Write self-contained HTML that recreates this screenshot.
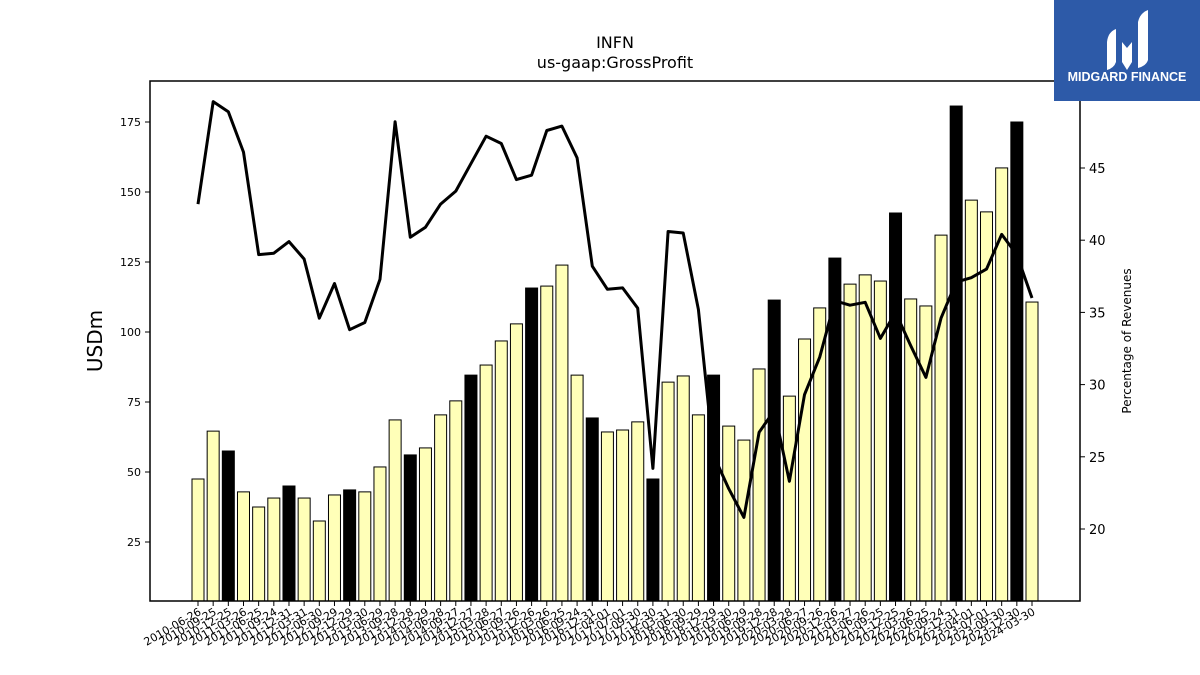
<!DOCTYPE html>
<html><head><meta charset="utf-8"><style>
body{margin:0;background:#fff;}
svg{display:block;font-family:"DejaVu Sans","Liberation Sans",sans-serif;}
</style></head><body>
<svg id="chart" width="1200" height="675" viewBox="0 0 1200 675">
<rect width="1200" height="675" fill="#fff"/>
<text x="615" y="48" font-size="16" text-anchor="middle">INFN</text>
<text x="615" y="68" font-size="16" text-anchor="middle">us-gaap:GrossProfit</text>
<text transform="translate(102,341) rotate(-90)" font-size="20" text-anchor="middle">USDm</text>
<text transform="translate(1131,341) rotate(-90)" font-size="12" text-anchor="middle">Percentage of Revenues</text>
<g id="bars"></g>
<g id="ticks"></g>
<path id="line" fill="none" stroke="#000" stroke-width="3" stroke-linejoin="round"/>
<rect x="150" y="81" width="930" height="520" fill="none" stroke="#000" stroke-width="1.5"/>
<g>
<rect x="1054" y="0" width="146" height="101" fill="#2d5aa8"/>
<path d="M1107 70 L1107 42 Q1108 32 1116 29 L1116 62 Q1114 68 1107 70Z" fill="#fff"/>
<path d="M1122 62 L1122 42 L1127 48 L1132 42 L1132 62 L1127 70Z" fill="#fff"/>
<path d="M1138 68 L1138 22 Q1140 13 1148 10 L1148 60 Q1146 66 1138 68Z" fill="#fff"/>
<text x="1127" y="81" font-size="12.5" font-weight="bold" fill="#fff" text-anchor="middle" font-family="Liberation Sans, sans-serif">MIDGARD FINANCE</text>
</g>
</svg>
<script>
const dates=["2010-06-26","2010-09-25","2010-12-25","2011-03-26","2011-06-25","2011-09-24","2011-12-31","2012-03-31","2012-06-30","2012-09-29","2012-12-29","2013-03-30","2013-06-29","2013-09-28","2013-12-28","2014-03-29","2014-06-28","2014-09-27","2014-12-27","2015-03-28","2015-06-27","2015-09-26","2015-12-26","2016-03-26","2016-06-25","2016-09-24","2016-12-31","2017-04-01","2017-07-01","2017-09-30","2017-12-30","2018-03-31","2018-06-30","2018-09-29","2018-12-29","2019-03-30","2019-06-29","2019-09-28","2019-12-28","2020-03-28","2020-06-27","2020-09-26","2020-12-26","2021-03-27","2021-06-26","2021-09-25","2021-12-25","2022-03-26","2022-06-25","2022-09-24","2022-12-31","2023-04-01","2023-07-01","2023-09-30","2023-12-30","2024-03-30"];
const grossProfit=[47.5,64.6,57.5,42.9,37.5,40.7,45,40.7,32.5,41.8,43.6,42.9,51.8,68.6,56.1,58.6,70.4,75.4,84.6,88.2,96.8,102.9,115.7,116.4,123.9,84.6,69.3,64.3,65,67.9,47.5,82.1,84.3,70.4,84.6,66.4,61.4,86.8,111.4,77.1,97.5,108.6,126.4,117.1,120.4,118.2,142.5,111.8,109.3,134.6,180.7,147.1,142.9,158.6,175,110.7];
const pctRevenue=[42.5,49.6,48.9,46.1,39.0,39.1,39.9,38.7,34.6,37.0,33.8,34.3,37.3,48.2,40.2,40.9,42.5,43.4,45.3,47.2,46.7,44.2,44.5,47.6,47.9,45.7,38.2,36.6,36.7,35.3,24.2,40.6,40.5,35.2,25.1,22.8,20.8,26.7,28.2,23.3,29.3,31.9,35.8,35.5,35.7,33.2,35.0,32.7,30.5,34.6,37.1,37.4,38.0,40.4,39.0,36.0];
const leftTicks=[25,50,75,100,125,150,175];
const rightTicks=[20,25,30,35,40,45];
const NS="http://www.w3.org/2000/svg";
const x=i=>198+i*(1032-198)/(dates.length-1);
const yL=v=>122+(175-v)*2.8;
const yR=v=>168+(45-v)*14.44;
const bw=12;
const bars=document.getElementById('bars'),ticks=document.getElementById('ticks');
function mk(tag,attrs,parent){const e=document.createElementNS(NS,tag);for(const k in attrs)e.setAttribute(k,attrs[k]);parent.appendChild(e);return e;}
dates.forEach((d,i)=>{
  const top=yL(grossProfit[i]);
  const r=mk('rect',{x:x(i)-bw/2,y:top,width:bw,height:601-top,fill:(i%4===2)?'#000':'#ffffb8',stroke:'#000','stroke-width':1},bars);
  
  
  mk('line',{x1:x(i),x2:x(i),y1:601,y2:606,stroke:'#000'},ticks);
  const t=mk('text',{transform:`translate(${x(i)+4},${614}) rotate(-30)`,'font-size':11,'text-anchor':'end'},ticks);
  t.textContent=d;
  
  
});
leftTicks.forEach(v=>{
  mk('line',{x1:145,x2:150,y1:yL(v),y2:yL(v),stroke:'#000'},ticks);
  const t=mk('text',{x:141,y:yL(v)+4,'font-size':11,'text-anchor':'end'},ticks);
  t.textContent=v;
  
  
});
rightTicks.forEach(v=>{
  mk('line',{x1:1080,x2:1085,y1:yR(v),y2:yR(v),stroke:'#000'},ticks);
  const t=mk('text',{x:1089,y:yR(v)+5,'font-size':13},ticks);
  t.textContent=v;
  
  
});
document.getElementById('line').setAttribute('d',pctRevenue.map((v,i)=>(i?'L':'M')+x(i).toFixed(1)+' '+yR(v).toFixed(1)).join(' '));
</script>
</body></html>
